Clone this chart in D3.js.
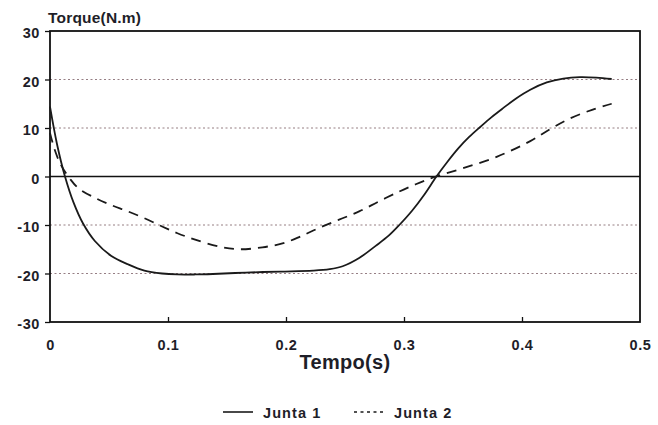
<!DOCTYPE html>
<html>
<head>
<meta charset="utf-8">
<script src="https://cdn.jsdelivr.net/npm/d3@7"></script>
<style>
  html, body { margin: 0; padding: 0; background: #fff; }
  svg { display: block; }
  text { font-family: "Liberation Sans", Arial, Helvetica, sans-serif; fill: #1e1e28; }
</style>
</head>
<body>
<svg id="chart" width="658" height="425"></svg>
<script>
// ---- data ----
const time1 = [0, 0.006, 0.0127, 0.02, 0.028, 0.038, 0.052, 0.066, 0.080, 0.095, 0.108, 0.123, 0.138, 0.166, 0.195, 0.223, 0.237, 0.248, 0.262, 0.276, 0.287, 0.296, 0.307, 0.317, 0.3275, 0.337, 0.346, 0.355, 0.365, 0.374, 0.384, 0.395, 0.407, 0.421, 0.435, 0.449, 0.463, 0.476];
const torque1 = [14.4, 6.6, 0, -5.4, -9.7, -13.3, -16.4, -18.1, -19.4, -20, -20.2, -20.2, -20.1, -19.8, -19.6, -19.4, -19.1, -18.5, -16.8, -14.3, -12.2, -10, -7.0, -3.8, 0, 3.1, 5.8, 8.1, 10.3, 12.2, 14.1, 16.1, 17.9, 19.4, 20.2, 20.5, 20.4, 20.1];

const time2 = [0, 0.004, 0.009, 0.017, 0.024, 0.038, 0.052, 0.066, 0.080, 0.095, 0.108, 0.123, 0.144, 0.161, 0.180, 0.197, 0.212, 0.228, 0.245, 0.262, 0.279, 0.296, 0.310, 0.327, 0.35, 0.379, 0.407, 0.424, 0.441, 0.46, 0.476];
const torque2 = [9, 5.5, 2.5, -0.5, -2.4, -4.4, -5.9, -7.2, -8.6, -10.3, -11.7, -13.0, -14.5, -15, -14.6, -13.8, -12.4, -10.6, -8.9, -7.2, -5.1, -3.1, -1.6, 0, 1.7, 4.1, 7.3, 9.8, 12, 13.8, 15];

const xTicks = [0, 0.1, 0.2, 0.3, 0.4, 0.5];
const xTickLabels = ["0", "0.1", "0.2", "0.3", "0.4", "0.5"];
const yTicks = [30, 20, 10, 0, -10, -20, -30];
const yTickLabels = ["30", "20", "10", "0", "-10", "-20", "-30"];
const gridValues = [20, 10, -10, -20];
const seriesNames = ["Junta 1", "Junta 2"];
const yTitle = "Torque(N.m)";
const xTitle = "Tempo(s)";

// ---- layout ----
const svg = d3.select("#chart");
const mLeft = 50, mRight = 640, mTop = 31, mBottom = 322;

const x = d3.scaleLinear().domain([0, 0.5]).range([mLeft, mRight]);
const y = d3.scaleLinear().domain([-30, 30]).range([mBottom, mTop]);

// grid lines (dotted)
svg.append("g").selectAll("line").data(gridValues).join("line")
  .attr("x1", mLeft).attr("x2", mRight)
  .attr("y1", d => y(d)).attr("y2", d => y(d))
  .attr("stroke", "#84686f").attr("stroke-width", 1)
  .attr("stroke-dasharray", "2,2.5").attr("opacity", 0.85);

// zero line
svg.append("line")
  .attr("x1", mLeft).attr("x2", mRight)
  .attr("y1", y(0)).attr("y2", y(0))
  .attr("stroke", "#111").attr("stroke-width", 1.6);

// frame
svg.append("rect")
  .attr("x", mLeft).attr("y", mTop)
  .attr("width", mRight - mLeft).attr("height", mBottom - mTop)
  .attr("fill", "none").attr("stroke", "#111").attr("stroke-width", 1.8);

// x axis (ticks inward)
const xAxis = d3.axisBottom(x).tickValues(xTicks)
  .tickFormat((d, i) => xTickLabels[i]).tickSizeInner(-5).tickSizeOuter(0).tickPadding(18);
const gx = svg.append("g").attr("transform", `translate(0,${mBottom})`).call(xAxis);
gx.select(".domain").remove();
gx.selectAll(".tick line").attr("stroke", "#111").attr("stroke-width", 1.3)
  .style("display", (d) => (d === 0 || d === 0.5) ? "none" : null);
gx.selectAll(".tick text")
  .attr("font-size", 14.5).attr("font-weight", "bold")
  .attr("font-family", "Liberation Sans, Arial, sans-serif")
  .attr("fill", "#1e1e28").attr("letter-spacing", 0.6);

// y axis (ticks outward)
const yAxis = d3.axisLeft(y).tickValues(yTicks)
  .tickFormat((d, i) => yTickLabels[i]).tickSizeInner(5).tickSizeOuter(0).tickPadding(5);
const gy = svg.append("g").attr("transform", `translate(${mLeft},0)`).call(yAxis);
gy.select(".domain").remove();
gy.selectAll(".tick line").attr("stroke", "#111").attr("stroke-width", 1.3);
gy.selectAll(".tick text")
  .attr("font-size", 14.5).attr("font-weight", "bold")
  .attr("font-family", "Liberation Sans, Arial, sans-serif")
  .attr("fill", "#1e1e28").attr("letter-spacing", 0.6)
  .attr("dy", "0.45em");

// lines
const line = d3.line().x(d => x(d[0])).y(d => y(d[1])).curve(d3.curveCatmullRom.alpha(0.5));
const data1 = time1.map((t, i) => [t, torque1[i]]);
const data2 = time2.map((t, i) => [t, torque2[i]]);

svg.append("path").attr("d", line(data1))
  .attr("fill", "none").attr("stroke", "#1a1a1a").attr("stroke-width", 1.8);
svg.append("path").attr("d", line(data2))
  .attr("fill", "none").attr("stroke", "#1a1a1a").attr("stroke-width", 1.8)
  .attr("stroke-dasharray", "10,7");

// titles
svg.append("text").attr("x", 48).attr("y", 23)
  .attr("font-size", 15.5).attr("font-weight", "bold").attr("letter-spacing", 0.2)
  .text(yTitle);
svg.append("text").attr("x", (mLeft + mRight) / 2).attr("y", 369)
  .attr("text-anchor", "middle").attr("font-size", 20).attr("font-weight", "bold")
  .attr("letter-spacing", 0.3)
  .text(xTitle);

// legend
const leg = svg.append("g");
leg.append("line").attr("x1", 223).attr("x2", 253).attr("y1", 412).attr("y2", 412)
  .attr("stroke", "#1a1a1a").attr("stroke-width", 1.6);
leg.append("text").attr("x", 263).attr("y", 418)
  .attr("font-size", 14.5).attr("font-weight", "bold").attr("letter-spacing", 1.1)
  .text(seriesNames[0]);
leg.append("line").attr("x1", 354).attr("x2", 386).attr("y1", 412).attr("y2", 412)
  .attr("stroke", "#1a1a1a").attr("stroke-width", 1.4).attr("stroke-dasharray", "3,3.5");
leg.append("text").attr("x", 394).attr("y", 418)
  .attr("font-size", 14.5).attr("font-weight", "bold").attr("letter-spacing", 1.1)
  .text(seriesNames[1]);
</script>
</body>
</html>
